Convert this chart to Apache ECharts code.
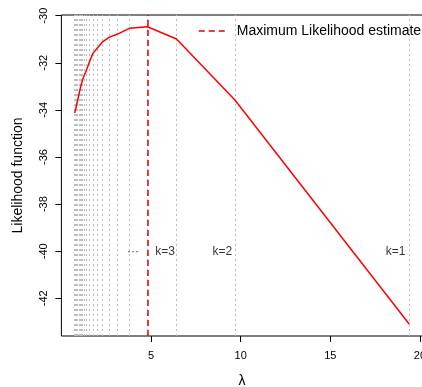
<!DOCTYPE html>
<html>
<head>
<meta charset="utf-8">
<script src="https://cdn.jsdelivr.net/npm/echarts@6/dist/echarts.min.js"></script>
<style>
  html, body { margin: 0; padding: 0; background: #fff; }
  #chart { width: 422px; height: 387px; }
</style>
</head>
<body>
<div id="chart"></div>
<script>
// lambda at which k changes (k = 1 .. 22)
const lambdaK = [19.4, 9.68, 6.42, 4.80, 3.81, 3.14, 2.65, 2.30, 2.02, 1.76, 1.55,
  1.40, 1.28, 1.18, 1.10, 1.03, 0.97, 0.91, 0.86, 0.82, 0.78, 0.74];
// likelihood function at each of those lambdas
const loglik = [-43.09, -33.58, -30.99, -30.47, -30.53, -30.78, -30.92, -31.11, -31.36, -31.60, -31.99,
  -32.31, -32.52, -32.73, -32.95, -33.16, -33.37, -33.58, -33.75, -33.88, -34.01, -34.13];
const mleLambda = 4.80;

const kLabels = ["k=1", "k=2", "k=3", "\u00b7\u00b7\u00b7"];
const kLabelX = [18.64, 8.98, 5.78, 4.0];
const kLabelY = -40;

const xTicks = [5, 10, 15, 20];
const yTicks = [-42, -40, -38, -36, -34, -32, -30];

const FONT = '"Liberation Sans", Arial, Helvetica, sans-serif';

const chart = echarts.init(document.getElementById("chart"), null, { renderer: "canvas" });

chart.setOption({
  animation: false,
  backgroundColor: "#ffffff",
  textStyle: { fontFamily: FONT },
  grid: {
    left: 61.4,
    right: -0.6,
    top: 15,
    bottom: 51,
    outerBoundsMode: "none",
    containLabel: false,
    show: true,
    borderColor: "#000",
    borderWidth: 1,
  },
  legend: {
    left: 198,
    top: 24,
    padding: 0,
    itemWidth: 26,
    itemHeight: 14,
    data: ["Maximum Likelihood estimate"],
    textStyle: { fontFamily: FONT, fontSize: 14, color: "#000", padding: [0, 0, 0, 7] },
    lineStyle: { type: [6, 4], width: 1.5, color: "#e00000" },
    itemStyle: { opacity: 0 },
  },
  xAxis: {
    type: "value",
    min: 0,
    max: 20.15,
    name: "\u03bb",
    nameLocation: "middle",
    nameGap: 38,
    nameTextStyle: { fontFamily: FONT, fontSize: 14, color: "#000" },
    axisLine: { show: false },
    splitLine: { show: false },
    axisTick: { show: true, length: 6, lineStyle: { color: "#000" }, customValues: xTicks },
    axisLabel: { fontFamily: FONT, fontSize: 11, color: "#000", margin: 14, customValues: xTicks },
  },
  yAxis: {
    type: "value",
    min: -43.6,
    max: -29.97,
    name: "Likelihood function",
    nameLocation: "middle",
    nameGap: 36,
    nameTextStyle: { fontFamily: FONT, fontSize: 14, color: "#000" },
    axisLine: { show: false },
    splitLine: { show: false },
    axisTick: { show: true, length: 6, lineStyle: { color: "#000" }, customValues: yTicks },
    axisLabel: { fontFamily: FONT, fontSize: 11, color: "#000", margin: 12, rotate: 90, customValues: yTicks },
  },
  series: [
    {
      name: "likelihood",
      type: "line",
      data: lambdaK.map((l, i) => [l, loglik[i]]),
      symbol: "none",
      lineStyle: { color: "#ff0000", width: 1.5 },
      z: 3,
      markLine: {
        silent: true,
        symbol: ["none", "none"],
        label: { show: false },
        lineStyle: { color: "#bdbdbd", type: [2, 3], width: 1 },
        data: lambdaK.map((l) => ({ xAxis: l })),
        z: 1,
      },
    },
    {
      name: "Maximum Likelihood estimate",
      type: "line",
      data: [],
      symbol: "none",
      lineStyle: { color: "#e00000", type: [6, 4], width: 1.5 },
      itemStyle: { color: "#e00000" },
      markLine: {
        silent: true,
        symbol: ["none", "none"],
        label: { show: false },
        lineStyle: { color: "#e00000", type: [6, 4], width: 1.5 },
        data: [{ xAxis: mleLambda }],
        z: 4,
      },
    },
    {
      name: "k labels",
      type: "scatter",
      symbolSize: 0,
      data: kLabelX.map((x, i) => ({ value: [x, kLabelY], label: { formatter: kLabels[i] } })),
      label: {
        show: true,
        position: "inside",
        fontFamily: FONT,
        fontSize: 12,
        color: "#000",
      },
      silent: true,
    },
  ],
});
</script>
</body>
</html>
